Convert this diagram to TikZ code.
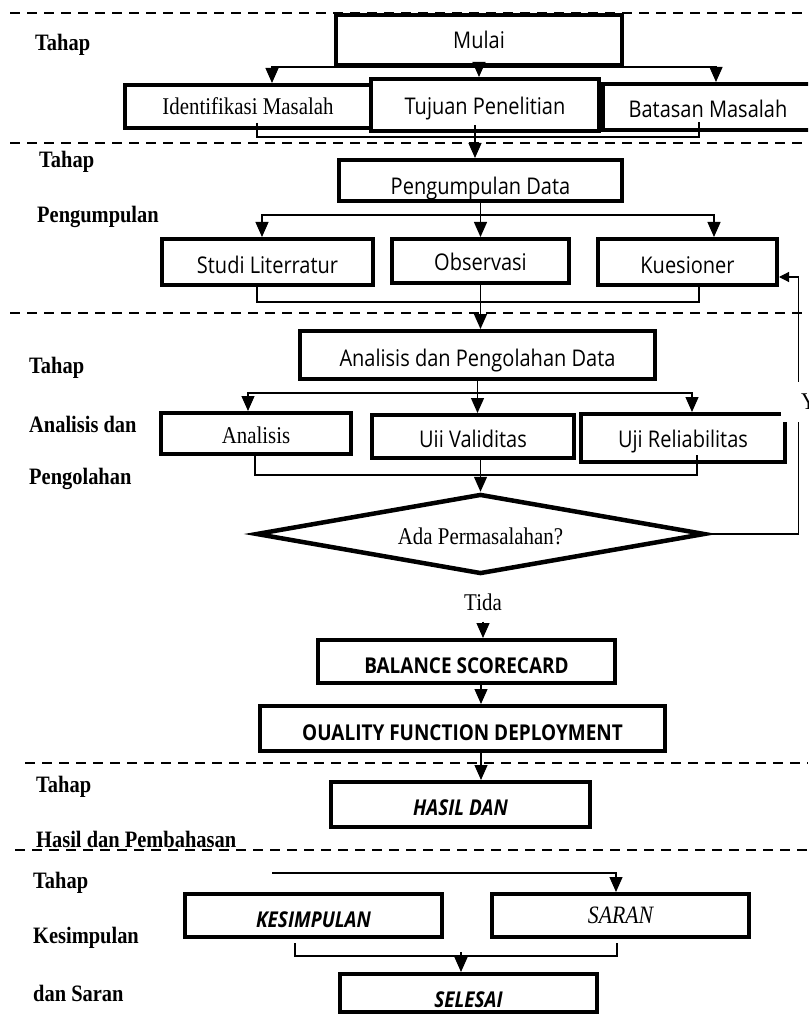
\documentclass[tikz,border=0pt]{standalone}
\usepackage{fontspec}
\setmainfont{Liberation Serif}[FakeStretch=0.87]
\newfontfamily\sansbox{Open Sans}[FakeStretch=0.87]
\usetikzlibrary{shapes.geometric, arrows.meta}
\newcommand{\LblFont}{\fontsize{23.5}{27}\selectfont\bfseries}
\newcommand{\SerifFont}{\fontsize{24}{28}\selectfont}
\newcommand{\SansFont}{\sansbox\fontsize{23}{27}\selectfont}
\newcommand{\SansBold}{\sansbox\fontsize{21.8}{26}\selectfont\bfseries}

\begin{document}
\begin{tikzpicture}[x=1pt, y=-1pt, >={Triangle[width=13pt,length=15pt]},
  box/.style={draw, fill=white, rectangle, line width=4pt, inner sep=0pt,
              text height=20pt, text depth=0pt, font=\SansFont},
  sbox/.style={box, font=\SerifFont},
  bbox/.style={box, font=\SansBold},
  ibox/.style={box, font=\SansBold\itshape},
  conn/.style={line width=1.2pt},
  sep/.style={dash pattern=on 10pt off 7pt, line width=1.5pt},
  lbl/.style={anchor=west, font=\LblFont, inner sep=0pt}]
  \clip (0,0) rectangle (808,1016);

  % stage separators
  \draw[sep] (10,13)  -- (808,13);
  \draw[sep] (10,143) -- (808,143);
  \draw[sep] (10,313) -- (808,313);
  \draw[sep] (25,763) -- (808,763);
  \draw[sep] (15,850) -- (808,850);

  % stage labels
  \node[lbl] (tahap1) at (35,45)  {Tahap};
  \node[lbl] (tahap2) at (39,162) {Tahap};
  \node[lbl] (pgl)    at (37,217) {Pengumpulan};
  \node[lbl] (tahap3) at (29,368) {Tahap};
  \node[lbl] (adan)   at (29,424) {Analisis dan};
  \node[lbl] (pgh)    at (29,479) {Pengolahan};
  \node[lbl] (tahap4) at (36,787) {Tahap};
  \node[lbl] (hdp)    at (36,839) {Hasil dan Pembahasan};
  \node[lbl] (tahap5) at (33,883) {Tahap};
  \node[lbl] (kes)    at (33,938) {Kesimpulan};
  \node[lbl] (dsar)   at (33,993) {dan Saran};

  % boxes
  \node[box, minimum width=286, minimum height=50, text height=18pt] (mulai) at (479,40) {Mulai};
  \node[sbox, minimum width=246, minimum height=43, text height=17pt] (idm) at (248,106.5) {Identifikasi Masalah};
  \node[box, minimum width=228, minimum height=52] (tujuan) at (485,105) {Tujuan Penelitian};
  \node[box, minimum width=210, minimum height=46, text height=22pt] (batasan) at (708,107) {Batasan Masalah};
  \node[box, minimum width=283, minimum height=41, text height=29pt] (pengumpulan) at (480.5,180.5) {Pengumpulan Data};
  \node[box, minimum width=211, minimum height=46, text height=22pt] (studi) at (267.5,262) {Studi Literratur};
  \node[box, minimum width=177, minimum height=44, text height=18pt] (observasi) at (480.5,261) {Observasi};
  \node[box, minimum width=179, minimum height=46, text height=22pt] (kuesioner) at (687.5,262) {Kuesioner};
  \node[box, minimum width=355, minimum height=48, text height=22pt] (apd) at (477.5,355) {Analisis dan Pengolahan Data};
  \node[sbox, minimum width=190, minimum height=41, text height=19pt] (analisis) at (256,433.5) {Analisis};
  \node[box, minimum width=202, minimum height=43, text height=21pt] (validitas) at (473,436.5) {Uii Validitas};
  \node[box, minimum width=204, minimum height=48, text height=18pt] (reliabilitas) at (683,438) {Uji Reliabilitas};
  \node[sbox, diamond, aspect=5.4, line width=4.5pt, minimum width=449, minimum height=80] (ada) at (480.5,534) {Ada Permasalahan?};
  \node[font=\SerifFont, inner sep=2pt] (tida) at (483,602) {Tida};
  \node[bbox, minimum width=297, minimum height=43, text height=23pt] (balance) at (466.5,661.5) {BALANCE SCORECARD};
  \node[bbox, minimum width=405, minimum height=45, text height=23pt] (qfd) at (462.5,728.5) {OUALITY FUNCTION DEPLOYMENT};
  \node[ibox, minimum width=259, minimum height=45, text height=21pt] (hasil) at (460.5,804.5) {HASIL DAN};
  \node[ibox, minimum width=257, minimum height=43, text height=23pt] (kesimpulan) at (313.5,915.5) {KESIMPULAN};
  \node[box, font=\fontsize{25}{29}\selectfont\itshape, minimum width=257, minimum height=43, text height=15pt] (saran) at (620.5,915.5) {SARAN};
  \node[ibox, minimum width=257, minimum height=38, text height=28pt] (selesai) at (468.5,993) {SELESAI};

  % identifikasi
  \draw[conn, ->] (mulai.south) -| ([xshift=24pt]idm.north);
  \draw[conn, ->] (mulai.south) -| ([xshift=8pt]batasan.north);
  \draw[conn, ->] (mulai.south) -- (mulai.south |- tujuan.north);
  \draw[conn] ([xshift=9pt,yshift=7pt]idm.south) -- ++(0,14) -| ([xshift=-9pt,yshift=10pt]batasan.south);
  \draw[conn, ->] ([xshift=-10pt,yshift=8pt]tujuan.south) coordinate (tj) -- (tj |- pengumpulan.north);

  % pengumpulan
  \draw[conn, ->] (pengumpulan.south) -- (observasi.north);
  \draw[conn, ->] ([yshift=-12pt]pengumpulan.south) -| ([xshift=-5.5pt]studi.north);
  \draw[conn, ->] ([yshift=-12pt]pengumpulan.south) -| ([xshift=26.5pt]kuesioner.north);
  \draw[conn] ([xshift=-10.5pt]studi.south) -- ++(0,15) -| ([xshift=11.5pt]kuesioner.south);
  \draw[conn, ->] (observasi.south) -- (observasi.south |- apd.north);

  % analisis dan pengolahan
  \draw[conn, ->] (apd.south) -- (apd.south |- validitas.north);
  \draw[conn, ->] ([yshift=-12pt]apd.south) -| ([xshift=-8pt]analisis.north);
  \draw[conn, ->] ([yshift=-12pt]apd.south) -| ([xshift=9pt]reliabilitas.north);
  \draw[conn] ([xshift=-1pt]analisis.south) -- ++(0,19) -| ([xshift=14pt,yshift=9pt]reliabilitas.south);
  \draw[conn, ->] (validitas.south -| ada.north) -- (ada.north);
  \draw[conn, -{Triangle[width=10pt,length=10pt]}] (ada.east) -- ++(91,0) |- ([yshift=-15pt]kuesioner.east);
  \node[font=\SerifFont, anchor=west, fill=white, inner xsep=20pt, inner ysep=0pt, minimum height=40pt] (ya) at (781,402) {Ya};

  % hasil
  \coordinate (axis) at (481,0);
  \draw[conn, ->, shorten <=9pt] (tida.south) -- (tida.south |- balance.north);
  \draw[conn, ->] (balance.south -| axis) -- (qfd.north -| axis);
  \draw[conn, ->] (qfd.south -| axis) -- (hasil.north -| axis);

  % kesimpulan dan saran
  \coordinate (s0) at (272,873);
  \draw[conn, ->] (s0) -| ([xshift=-4.5pt]saran.north);
  \draw[conn] ([xshift=-18.5pt,yshift=-4pt]kesimpulan.south) -- ++(0,13) -| ([xshift=-3.5pt,yshift=-4pt]saran.south);
  \draw[conn, ->] ([xshift=-7.5pt,yshift=20pt]selesai.north) -- ([xshift=-7.5pt]selesai.north);
\end{tikzpicture}
\end{document}
